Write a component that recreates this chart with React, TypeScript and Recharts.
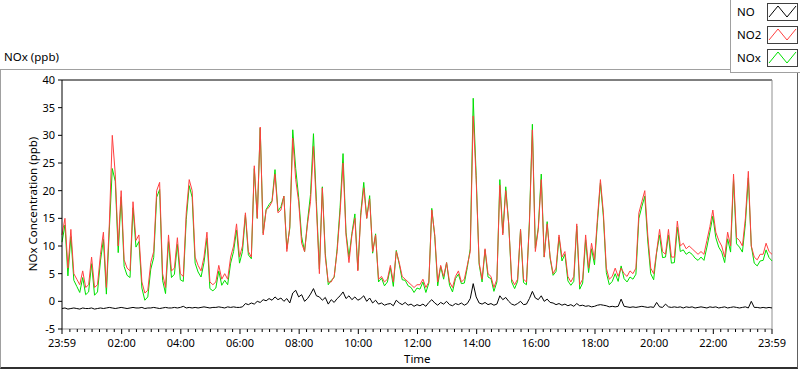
import { LineChart, Line, XAxis, YAxis, ReferenceLine } from 'recharts'

// 6-minute samples from 23:59 to 23:59 (ppb)
const no2 = [
  12, 15, 6, 13, 5, 4, 3, 5.5, 2.5, 3,
  8, 2.5, 3, 8.5, 12.5, 2.5, 14, 30, 23, 10,
  20, 7.5, 6, 5.5, 18, 11, 12, 3.5, 1.5, 2,
  7, 9, 20, 21.5, 5, 2.5, 12, 5.5, 6, 11.5,
  5, 4.5, 16, 22, 20, 8, 6.5, 5.5, 8, 12.5,
  3.5, 3, 3.5, 6.5, 4, 5, 4, 8, 10, 14,
  8, 10, 16, 9, 8, 24.5, 15, 31.5, 12, 16.5,
  17, 18, 23, 16, 16.5, 19, 9, 13.5, 29.5, 22,
  18, 10.5, 9, 14, 18, 28, 17, 5, 20.5, 8,
  3.5, 3.5, 4.5, 9, 16, 25, 12, 7, 12, 15,
  5.5, 15.5, 20.5, 15, 18.5, 9, 12, 4, 4.5, 3.5,
  4, 6.5, 3.5, 9, 7, 4.5, 4, 3.5, 3, 2.5,
  3, 3, 4, 2.5, 3.5, 16.5, 12, 3.5, 6.5, 4.5,
  7, 3.5, 2.5, 4.5, 5.5, 3.5, 4, 6.5, 9, 33.5,
  22, 7, 4, 9.5, 5, 4.5, 2.5, 4, 21, 12,
  20, 14, 4, 3, 4, 13, 4, 3.5, 14, 31,
  9, 13, 22, 8, 14, 8, 5, 6, 12, 8,
  9, 4.5, 3.5, 4.5, 14, 3, 4, 12, 6, 10.5,
  7.5, 15, 22, 16, 6, 4, 4.5, 6, 4.5, 6,
  5, 4.5, 5.5, 5, 6, 16, 18, 20, 12, 6,
  5, 9, 13, 9, 8.5, 13, 8, 8, 14.5, 10,
  10.5, 9.5, 10, 9.5, 9, 8.5, 9, 8.5, 11, 13.5,
  16.5, 12.5, 11, 10, 8, 12.5, 10, 23, 11.5, 11,
  10, 15, 23.5, 10, 8, 7.5, 8.5, 8.5, 10.5, 9,
  8.5,
]

const no = [
  -1.3, -1.2, -1.4, -1.3, -1.2, -1.3, -1.4, -1.2, -1.3, -1.3,
  -1.2, -1.4, -1.3, -1.2, -1.3, -1.2, -1.1, -1.2, -1.3, -1.2,
  -1.1, -1.2, -1.3, -1.2, -1.1, -1.2, -1.2, -1.1, -1.3, -1.2,
  -1.2, -1.1, -1.2, -1.3, -1.2, -1.1, -1.2, -1.2, -1.1, -1.2,
  -1.1, -0.9, -1.2, -1.1, -1.2, -1.1, -1.2, -1.1, -1.0, -1.1,
  -1.2, -1.1, -1.1, -1.0, -1.1, -1.2, -1.0, -1.1, -1.0, -1.1,
  -1.1, -1.0, -0.4, -0.6, -0.3, -0.5, 0.0, -0.2, 0.3, 0.1,
  0.5, 0.2, 0.8, 0.3, 0.6, 0.0, 0.5, -0.3, 1.5, 2.0,
  0.8, 1.2, 0.0, 0.5, 1.3, 2.3, 1.0, 0.8, 0.2, 0.7,
  -0.5, 0.3, -0.2, 0.5, 1.0, 1.7, 0.5, 1.0, 0.3, 0.8,
  0.2, 0.5, 1.0, 0.0, 0.6, -0.3, 0.2, -0.5, -0.3, -0.7,
  -0.5, -0.4, -0.8, 0.2, -0.3, -0.6, -0.2, -0.7, -0.5, -0.9,
  -0.6, -0.8, -0.5, -0.9, -0.2, 0.3, -0.3, -0.7, -0.2, -0.5,
  0.0, -0.6, -0.8, -0.4, -0.6, -0.3, -0.7, -0.4, 0.5, 3.2,
  0.8, -0.3, -0.5, -0.2, -0.6, -0.4, -0.7, -0.5, 1.0, 0.3,
  0.7, 0.0, -0.5, -0.7, -0.4, 0.0, -0.6, -0.5, 0.5, 1.8,
  0.6, 0.3, 1.0, 0.0, 0.4, -0.2, -0.3, -0.6, -0.4, -0.7,
  -0.5, -0.8, -0.6, -0.9, -0.4, -0.8, -0.7, -0.9, -0.8, -1.0,
  -0.9, -0.7, -0.6, -0.7, -0.8, -1.0, -0.9, -1.0, -0.9, 0.4,
  -0.9, -1.0, -1.1, -1.0, -1.1, -1.0, -0.9, -1.0, -1.1, -1.0,
  -1.1, -0.2, -1.0, -1.1, -0.5, -1.0, -1.1, -1.0, -1.1, -1.0,
  -1.2, -1.0, -1.1, -1.0, -1.2, -1.1, -1.0, -1.1, -1.2, -1.0,
  -1.1, -1.0, -1.2, -1.1, -1.0, -1.2, -1.1, -1.0, -1.1, -1.2,
  -1.1, -1.0, -1.2, 0.0, -1.1, -1.1, -1.2, -1.1, -1.2, -1.1,
  -1.2,
]

const nox = [
  10.7, 13.8, 4.6, 11.7, 3.8, 2.7, 1.6, 4.3, 1.2, 1.7,
  6.8, 1.1, 1.7, 7.3, 11.2, 1.3, 12.9, 24, 21.7, 8.8,
  18.9, 6.3, 4.7, 4.3, 16.9, 9.8, 10.8, 2.4, 0.2, 0.8,
  5.8, 7.9, 18.8, 20.2, 3.8, 1.4, 10.8, 4.3, 4.9, 10.3,
  3.9, 3.6, 14.8, 20.9, 18.8, 6.9, 5.3, 4.4, 7.0, 11.4,
  2.3, 1.9, 2.4, 5.5, 2.9, 3.8, 3.0, 6.9, 9.0, 12.9,
  6.9, 9.0, 15.6, 8.4, 7.7, 24.0, 15.0, 31.3, 12.3, 16.6,
  17.5, 18.2, 23.8, 16.3, 17.1, 19.0, 9.5, 13.2, 31.0, 24.0,
  18.8, 11.7, 9.0, 14.5, 19.3, 30.3, 18.0, 5.8, 20.7, 8.7,
  3.0, 3.8, 4.3, 9.5, 17.0, 26.7, 12.5, 8.0, 12.3, 15.8,
  5.7, 16.0, 21.5, 15.0, 19.1, 8.7, 12.2, 3.5, 4.2, 2.8,
  3.5, 6.1, 2.7, 9.2, 6.7, 3.9, 3.8, 2.8, 2.5, 1.6,
  2.4, 2.2, 3.5, 1.6, 3.3, 16.8, 11.7, 2.8, 6.3, 4.0,
  7.0, 2.9, 1.7, 4.1, 4.9, 3.2, 3.3, 6.1, 9.5, 36.7,
  22.8, 6.7, 3.5, 9.3, 4.4, 4.1, 1.8, 3.5, 22.0, 12.3,
  20.7, 14.0, 3.5, 2.3, 3.6, 13.0, 3.4, 3.0, 14.5, 32.0,
  9.6, 13.3, 23.0, 8.0, 14.4, 7.8, 4.7, 5.4, 11.6, 7.3,
  8.5, 3.7, 2.9, 3.6, 13.6, 2.2, 3.3, 11.1, 5.2, 9.5,
  6.6, 14.3, 21.4, 15.3, 5.2, 3.0, 3.6, 5.0, 3.6, 6.4,
  4.1, 3.5, 4.4, 4.0, 4.9, 15.0, 17.1, 19.0, 10.9, 5.0,
  3.9, 8.8, 12.0, 7.9, 8.0, 12.0, 6.9, 7.0, 13.4, 9.0,
  9.3, 8.5, 8.9, 8.5, 7.8, 7.4, 8.0, 7.4, 9.8, 12.5,
  15.4, 11.5, 9.8, 8.9, 7.0, 11.3, 8.9, 22.0, 10.4, 9.8,
  8.9, 14.0, 22.3, 10.0, 6.9, 6.4, 7.3, 7.4, 9.3, 7.9,
  7.3,
]

// minutes after 23:59
const majorTicks = [0, 121, 241, 361, 481, 601, 721, 841, 961, 1081, 1201, 1321, 1440]
const tickLabels = ['23:59', '02:00', '04:00', '06:00', '08:00', '10:00', '12:00', '14:00', '16:00', '18:00', '20:00', '22:00', '23:59']
const yTicks = [-5, 0, 5, 10, 15, 20, 25, 30, 35, 40]

const allTicks: number[] = [0]
for (let m = 16; m < 1440; m += 15) allTicks.push(m)
allTicks.push(1440)

const data = no2.map((v, i) => ({ t: i * 6, no: no[i], no2: v, nox: nox[i] }))

const FONT = '"Noto Sans", "Open Sans", sans-serif'

const TimeTick = (props: any) => {
  const { x, y, payload } = props
  const k = majorTicks.indexOf(payload.value)
  return (
    <g>
      <line x1={x} x2={x} y1={y} y2={y + (k >= 0 ? 5 : 3)} stroke="#000" />
      {k >= 0 && (
        <text x={x} y={y + 18} textAnchor="middle" fontSize={11} fontFamily={FONT} fill="#000">
          {tickLabels[k]}
        </text>
      )}
    </g>
  )
}

const legendItems = [
  { name: 'NO', color: '#000000' },
  { name: 'NO2', color: '#ff4040' },
  { name: 'NOx', color: '#00e000' },
]

export default function App() {
  return (
    <div style={{ position: 'absolute', left: 0, top: 0, width: 800, height: 369, background: '#fff', fontFamily: FONT }}>
      <div style={{ position: 'absolute', left: 0, top: 69, width: 796, height: 297, borderTop: '1px solid #a0a0a0', borderLeft: '1px solid #a0a0a0', borderRight: '1px solid #606060', borderBottom: '2px solid #303030' }} />
      <div style={{ position: 'absolute', left: 4, top: 49, fontSize: 11.5, color: '#000' }}>NOx (ppb)</div>
      <div style={{ position: 'absolute', left: 404, top: 351, fontSize: 11.5, color: '#000' }}>Time</div>
      <div style={{ position: 'absolute', left: 32, top: 204, width: 0, height: 0 }}>
        <div style={{ position: 'absolute', left: 0, top: 0, transform: 'translate(-50%, -50%) rotate(-90deg)', whiteSpace: 'nowrap', fontSize: 11.5, color: '#000' }}>
          NOx Concentration (ppb)
        </div>
      </div>

      <div style={{ position: 'absolute', left: 0, top: 0 }}>
        <LineChart width={800} height={369} data={data} margin={{ top: 80, right: 28, bottom: 0, left: 0 }}>
          <XAxis
            dataKey="t"
            type="number"
            domain={[0, 1440]}
            ticks={allTicks}
            interval={0}
            height={40}
            tickSize={0}
            tickMargin={0}
            tickLine={false}
            tick={<TimeTick />}
            axisLine={{ stroke: '#909090' }}
          />
          <YAxis
            domain={[-5, 40]}
            ticks={yTicks}
            interval={0}
            width={62}
            tickSize={4}
            tickMargin={3}
            tickLine={{ stroke: '#000' }}
            axisLine={{ stroke: '#000' }}
            tick={{ fontSize: 11, fontFamily: FONT, fill: '#000' }}
          />
          <ReferenceLine y={40} stroke="#000" />
          <ReferenceLine x={1440} stroke="#909090" />
          <Line type="linear" dataKey="nox" stroke="#00e000" strokeWidth={1} dot={false} isAnimationActive={false} />
          <Line type="linear" dataKey="no2" stroke="#ff4040" strokeWidth={1} dot={false} isAnimationActive={false} />
          <Line type="linear" dataKey="no" stroke="#000000" strokeWidth={1} dot={false} isAnimationActive={false} />
        </LineChart>
      </div>

      <div style={{ position: 'absolute', left: 730, top: 0, width: 69, height: 72, background: '#fff', borderLeft: '1px solid #a0a0a0', borderBottom: '1px solid #a0a0a0' }}>
        {legendItems.map((it, i) => (
          <div key={it.name} style={{ position: 'absolute', left: 0, top: 3 + i * 23, width: 69, height: 18 }}>
            <span style={{ position: 'absolute', left: 6, top: 1, fontSize: 11.5, color: '#000' }}>{it.name}</span>
            <svg style={{ position: 'absolute', left: 36, top: 0 }} width={31} height={18}>
              <rect x={0.5} y={0.5} width={30} height={17} fill="#fff" stroke="#404040" />
              <polyline points="2,14 11,3 20,14 29,3" fill="none" stroke={it.color} strokeWidth={1} />
            </svg>
          </div>
        ))}
      </div>
    </div>
  )
}
